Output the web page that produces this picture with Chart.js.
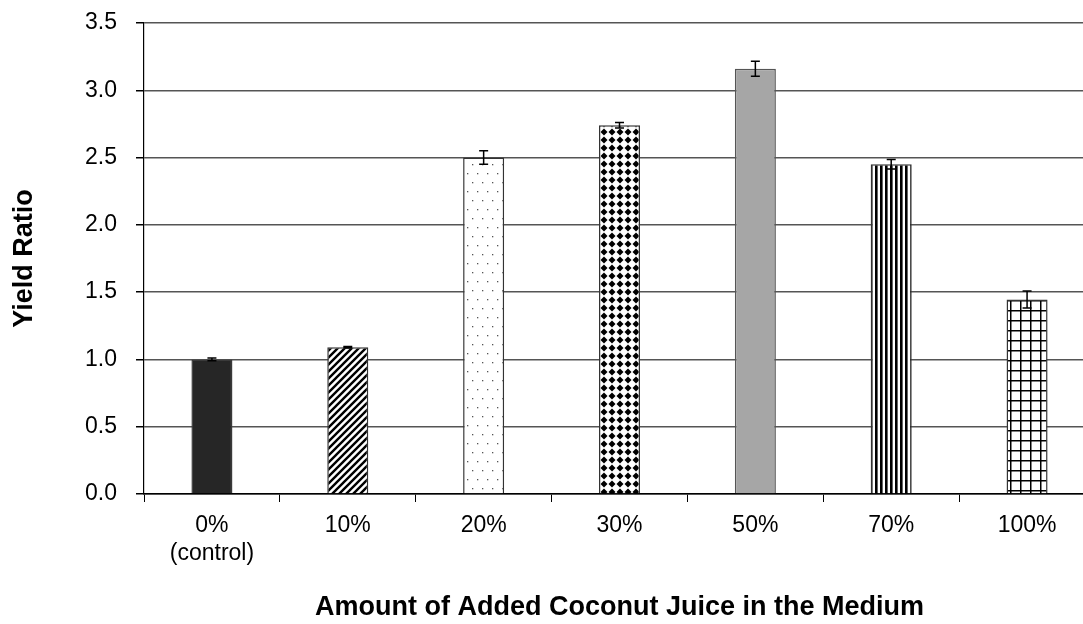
<!DOCTYPE html>
<html>
<head>
<meta charset="utf-8">
<script src="https://cdn.jsdelivr.net/npm/chart.js@4/dist/chart.umd.min.js"></script>
<style>
html,body{margin:0;padding:0;background:#fff;overflow:hidden;width:1083px;height:624px;}
#wrap{width:1095px;height:624px;position:relative;}
</style>
</head>
<body>
<div id="wrap"><canvas id="c" width="1095" height="624"></canvas></div>
<script>
const categories = [["0%","(control)"], "10%", "20%", "30%", "50%", "70%", "100%"];
const yieldRatio = [1.00, 1.09, 2.50, 2.74, 3.16, 2.45, 1.445];
const errorSize = [0.01, 0.006, 0.05, 0.02, 0.055, 0.035, 0.063];
const yTickValues = [0, 0.5, 1.0, 1.5, 2.0, 2.5, 3.0, 3.5];

function makePattern(w, h, draw) {
  const c = document.createElement('canvas');
  c.width = w; c.height = h;
  const g = c.getContext('2d');
  g.fillStyle = '#fff'; g.fillRect(0, 0, w, h);
  draw(g, w, h);
  return document.getElementById('c').getContext('2d').createPattern(c, 'repeat');
}
const patDiag = makePattern(7, 7, (g, w, h) => {
  g.strokeStyle = '#000'; g.lineWidth = 2.4;
  g.beginPath();
  g.moveTo(-1, h + 1); g.lineTo(w + 1, -1);
  g.moveTo(-1, 1); g.lineTo(1, -1);
  g.moveTo(w - 1, h + 1); g.lineTo(w + 1, h - 1);
  g.stroke();
});
const patDots = makePattern(10, 18, (g) => {
  g.fillStyle = '#555';
  g.fillRect(2, 2, 1.3, 1.3);
  g.fillRect(7, 11, 1.3, 1.3);
});
const patDiamond = makePattern(8, 8, (g) => {
  g.fillStyle = '#000';
  g.beginPath();
  g.moveTo(4, 0.5); g.lineTo(7.5, 4); g.lineTo(4, 7.5); g.lineTo(0.5, 4); g.closePath();
  g.fill();
});
const patVert = makePattern(5, 4, (g) => {
  g.fillStyle = '#000';
  g.fillRect(0, 0, 2.6, 4);
});
const patGrid = makePattern(10, 10, (g) => {
  g.fillStyle = '#000';
  g.fillRect(0, 0, 10, 1.5);
  g.fillRect(0, 0, 1.5, 10);
});

const fills = ['#262626', patDiag, patDots, patDiamond, '#a6a6a6', patVert, patGrid];
const borders = ['#3a3a3a', '#333', '#333', '#333', '#555', '#333', '#333'];

const errorBarPlugin = {
  id: 'errorBars',
  afterDatasetsDraw(chart) {
    const ctx = chart.ctx;
    const meta = chart.getDatasetMeta(0);
    const ys = chart.scales.y;
    ctx.save();
    ctx.strokeStyle = '#000';
    ctx.lineWidth = 1.5;
    meta.data.forEach((bar, i) => {
      const v = yieldRatio[i], e = errorSize[i];
      const x = bar.x;
      const yt = ys.getPixelForValue(v + e);
      const yb = ys.getPixelForValue(v - e);
      ctx.beginPath();
      ctx.moveTo(x, yt); ctx.lineTo(x, yb);
      ctx.moveTo(x - 4.5, yt); ctx.lineTo(x + 4.5, yt);
      ctx.moveTo(x - 4.5, yb); ctx.lineTo(x + 4.5, yb);
      ctx.stroke();
    });
    ctx.restore();
  }
};

new Chart(document.getElementById('c'), {
  type: 'bar',
  data: {
    labels: categories,
    datasets: [{
      data: yieldRatio,
      backgroundColor: fills,
      borderColor: borders,
      borderWidth: 1.5,
      categoryPercentage: 1.0,
      barPercentage: 0.302
    }]
  },
  options: {
    responsive: false,
    animation: false,
    devicePixelRatio: 1,
    layout: { padding: { top: 23, right: 0, left: 0, bottom: 0 } },
    plugins: { legend: { display: false }, tooltip: { enabled: false } },
    scales: {
      x: {
        offset: true,
        grid: { offset: true, drawOnChartArea: false, drawTicks: true, tickLength: 8, color: '#000', lineWidth: 1 },
        border: { color: '#000', width: 1.5 },
        ticks: { color: '#000', font: { family: 'Liberation Sans', size: 23 }, padding: 10, maxRotation: 0, autoSkip: false },
        title: { display: true, text: 'Amount of Added Coconut Juice in the Medium', color: '#000',
                 font: { family: 'Liberation Sans', size: 27, weight: 'bold' }, padding: { top: 20, bottom: 0 } },
        afterFit(s) { s.height = 130; }
      },
      y: {
        min: 0, max: 3.5,
        afterBuildTicks(s) { s.ticks = yTickValues.map(v => ({ value: v })); },
        grid: { color: '#555', lineWidth: 1.5, tickColor: '#000', tickLength: 8, drawTicks: true },
        border: { color: '#000', width: 1.2 },
        ticks: { color: '#000', font: { family: 'Liberation Sans', size: 23, lineHeight: 0.6 }, padding: 19,
                 callback: (v) => Number(v).toFixed(1) },
        title: { display: true, text: 'Yield Ratio', color: '#000',
                 font: { family: 'Liberation Sans', size: 27, weight: 'bold' }, padding: { top: 8, bottom: 10 } },
        afterFit(s) { s.width = 144; s.paddingTop = 0; s.paddingBottom = 0; }
      }
    }
  },
  plugins: [errorBarPlugin]
});
</script>
</body>
</html>
